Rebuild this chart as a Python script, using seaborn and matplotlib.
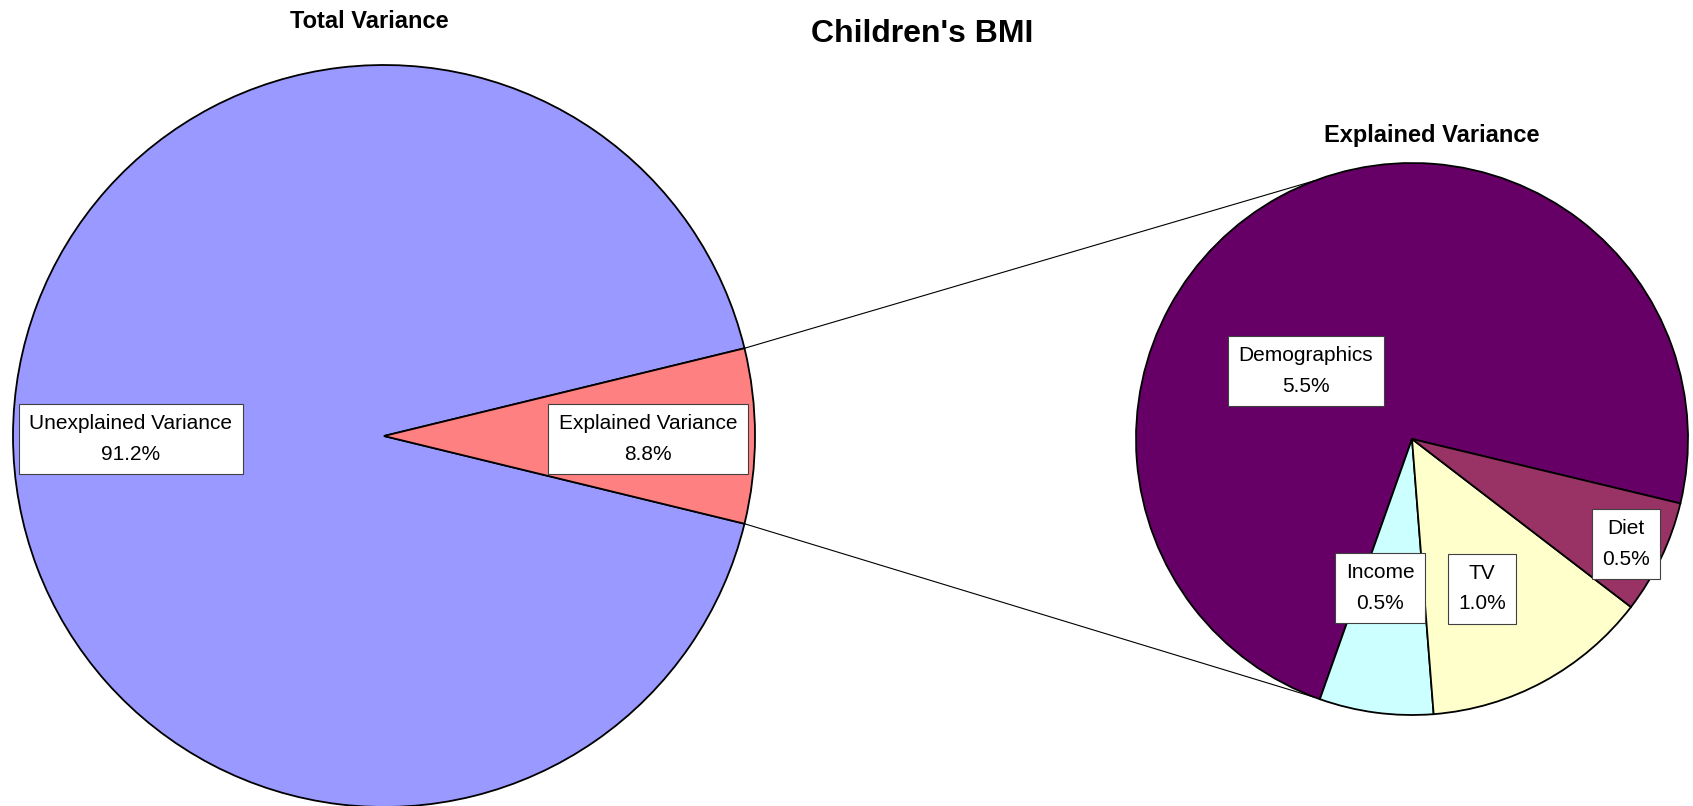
import numpy as np
import matplotlib
matplotlib.use("Agg")
import matplotlib.pyplot as plt
import seaborn as sns

# data
total_labels = ["Unexplained Variance", "Explained Variance"]
total_pct_text = ["91.2%", "8.8%"]
unexplained_value = 91.2

sub_labels = ["Demographics", "Income", "TV", "Diet"]
sub_values = [5.5, 0.5, 1.0, 0.5]

total_colors = ["#9999FF", "#FF8080"]
sub_colors = ["#660066", "#CCFFFF", "#FFFFCC", "#993366"]

sns.set_theme(style="white")
plt.rcParams['font.family'] = ['Liberation Sans', 'DejaVu Sans']
plt.rcParams['text.color'] = 'black'

W, H = 1693, 806
fig = plt.figure(figsize=(W / 100, H / 100), dpi=100)
ax = fig.add_axes([0, 0, 1, 1])

# the "explained" slice is drawn as the sum of the sub pie (like excel pie-of-pie)
total_values = [unexplained_value, sum(sub_values)]
expl_frac = total_values[1] / sum(total_values)

left_c, left_r = (384, 370), 371
right_c, right_r = (1412, 367), 276

wedge_kw = dict(edgecolor="black", linewidth=1.3)
w_left, _ = ax.pie(total_values, colors=total_colors, startangle=360 * expl_frac / 2,
                   center=left_c, radius=left_r, wedgeprops=wedge_kw)
w_right, _ = ax.pie(sub_values, colors=sub_colors, startangle=-13.5,
                    center=right_c, radius=right_r, wedgeprops=wedge_kw)

# connector lines from the explained slice to the second pie
expl = w_left[1]
for a_left, a_right in [(expl.theta2, 110.5), (expl.theta1, -110.5)]:
    x0 = left_c[0] + left_r * np.cos(np.radians(a_left))
    y0 = left_c[1] + left_r * np.sin(np.radians(a_left))
    x1 = right_c[0] + right_r * np.cos(np.radians(a_right))
    y1 = right_c[1] + right_r * np.sin(np.radians(a_right))
    ax.plot([x0, x1], [y0, y1], color="black", linewidth=0.8)

# label boxes (offsets in radius units from pie centre)
left_pos = [(-0.682, -0.008), (0.712, -0.008)]
right_pos = [(-0.384, 0.246), (-0.116, -0.540), (0.254, -0.543), (0.775, -0.380)]
box = dict(boxstyle="square,pad=0.5", facecolor="white", edgecolor="#404040", linewidth=0.8)

for lab, pct, (dx, dy) in zip(total_labels, total_pct_text, left_pos):
    ax.text(left_c[0] + dx * left_r, left_c[1] + dy * left_r, f"{lab}\n{pct}",
            ha="center", va="center", multialignment="center", fontsize=15,
            linespacing=1.75, bbox=box)

for lab, val, (dx, dy) in zip(sub_labels, sub_values, right_pos):
    ax.text(right_c[0] + dx * right_r, right_c[1] + dy * right_r, f"{lab}\n{val:.1f}%",
            ha="center", va="center", multialignment="center", fontsize=15,
            linespacing=1.75, bbox=box)

ax.set_xlim(0, W)
ax.set_ylim(0, H)
ax.set_aspect("equal")
ax.axis("off")

# titles
ax.text(922, H - 42, "Children's BMI", ha="center", va="baseline", fontsize=23, fontweight="bold")
ax.text(369, H - 28, "Total Variance", ha="center", va="baseline", fontsize=17, fontweight="bold")
ax.text(1432, H - 142, "Explained Variance", ha="center", va="baseline", fontsize=17, fontweight="bold")

fig.savefig("out.png", dpi=100)
